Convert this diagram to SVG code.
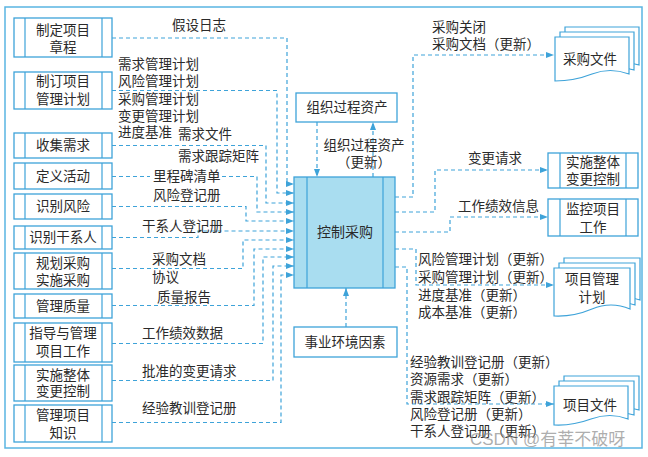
<svg xmlns="http://www.w3.org/2000/svg" width="648" height="457" viewBox="0 0 648 457">
<defs>
<style>
text{font-family:"Liberation Sans","Noto Sans CJK SC",sans-serif;font-size:13.5px;fill:#2a2a2a;dominant-baseline:central}
.c{text-anchor:middle}
.box{fill:#fff;stroke:#3ea3d9;stroke-width:1.3}
.bar{stroke:#3ea3d9;stroke-width:1.2;fill:none}
.ctr{fill:#a9ddf0;stroke:#3ea3d9;stroke-width:1.3}
.doc{fill:#fff;stroke:#3ea3d9;stroke-width:1.2}
.dl{fill:none;stroke:#3ea3d9;stroke-width:1.2;stroke-dasharray:4 3}
.ar{marker-end:url(#ah)}
.wm{font-size:17px;fill:#8a8a8a;fill-opacity:0.7}
</style>
<marker id="ah" viewBox="0 0 8 6" refX="8" refY="3" markerWidth="8" markerHeight="6" markerUnits="userSpaceOnUse" orient="auto">
<path d="M0,0 L8,3 L0,6 Z" fill="#3ea3d9"/>
</marker>
</defs>
<rect x="0" y="0" width="648" height="457" fill="#fff"/>
<rect x="5" y="7" width="637" height="441" fill="none" stroke="#5ab5e2" stroke-width="1.5"/>

<!-- left nodes -->
<g id="n1"><rect class="box" x="14" y="18" width="98" height="39"/><path class="bar" d="M25 18V57M102 18V57"/><text class="c" x="63" y="30">制定项目</text><text class="c" x="63" y="47">章程</text></g>
<g id="n2"><rect class="box" x="14" y="72" width="98" height="37"/><path class="bar" d="M25 72V109M102 72V109"/><text class="c" x="63" y="81">制订项目</text><text class="c" x="63" y="99">管理计划</text></g>
<g id="n3"><rect class="box" x="14" y="133" width="98" height="25"/><path class="bar" d="M25 133V158M102 133V158"/><text class="c" x="63" y="145.5">收集需求</text></g>
<g id="n4"><rect class="box" x="14" y="163" width="98" height="26"/><path class="bar" d="M25 163V189M102 163V189"/><text class="c" x="63" y="176">定义活动</text></g>
<g id="n5"><rect class="box" x="14" y="194" width="98" height="25"/><path class="bar" d="M25 194V219M102 194V219"/><text class="c" x="63" y="206.5">识别风险</text></g>
<g id="n6"><rect class="box" x="14" y="226" width="98" height="23"/><path class="bar" d="M25 226V249M102 226V249"/><text class="c" x="63" y="237.5">识别干系人</text></g>
<g id="n7"><rect class="box" x="14" y="253" width="98" height="36"/><path class="bar" d="M25 253V289M102 253V289"/><text class="c" x="63" y="263">规划采购</text><text class="c" x="63" y="280">实施采购</text></g>
<g id="n8"><rect class="box" x="14" y="294" width="98" height="24"/><path class="bar" d="M25 294V318M102 294V318"/><text class="c" x="63" y="306">管理质量</text></g>
<g id="n9"><rect class="box" x="14" y="323" width="98" height="39"/><path class="bar" d="M25 323V362M102 323V362"/><text class="c" x="63" y="333">指导与管理</text><text class="c" x="63" y="351">项目工作</text></g>
<g id="n10"><rect class="box" x="14" y="365" width="98" height="36"/><path class="bar" d="M25 365V401M102 365V401"/><text class="c" x="63" y="375">实施整体</text><text class="c" x="63" y="391">变更控制</text></g>
<g id="n11"><rect class="box" x="14" y="405" width="98" height="37"/><path class="bar" d="M25 405V442M102 405V442"/><text class="c" x="63" y="415">管理项目</text><text class="c" x="63" y="433">知识</text></g>

<!-- center -->
<g id="center"><rect class="ctr" x="294" y="177" width="101" height="111"/><path class="bar" d="M307 177V288M383 177V288"/><text class="c" x="345" y="232" style="font-size:14px">控制采购</text></g>
<g id="opa"><rect class="box" x="296" y="93" width="101" height="29"/><text class="c" x="347" y="107">组织过程资产</text></g>
<g id="eef"><rect class="box" x="294" y="327" width="103" height="30"/><text class="c" x="345" y="342">事业环境因素</text></g>

<!-- right nodes -->
<g id="r1"><path class="doc" d="M565 27H639V65Q620 59 602 65T565 69Z"/><path class="doc" d="M560 32H634V70Q615 64 597 70T560 74Z"/><path class="doc" d="M555 37H629V74Q610 67 592 74T555 81Z"/><text class="c" x="590" y="59">采购文件</text></g>
<g id="r2"><rect class="box" x="548" y="153" width="90" height="35"/><path class="bar" d="M560 153V188M626 153V188"/><text class="c" x="593" y="162">实施整体</text><text class="c" x="593" y="179">变更控制</text></g>
<g id="r3"><rect class="box" x="548" y="199" width="90" height="37"/><path class="bar" d="M560 199V236M626 199V236"/><text class="c" x="593" y="209">监控项目</text><text class="c" x="593" y="227">工作</text></g>
<g id="r4"><path class="doc" d="M564 258H640V300Q621 293 602 300T564 304Z"/><path class="doc" d="M559 263H635V305Q616 298 597 305T559 309Z"/><path class="doc" d="M554 268H630V309Q611 301 592 309T554 316Z"/><text class="c" x="592" y="279">项目管理</text><text class="c" x="592" y="297">计划</text></g>
<g id="r5"><path class="doc" d="M564 376H639V410Q620 404 601 410T564 414Z"/><path class="doc" d="M559 381H634V415Q615 409 596 415T559 419Z"/><path class="doc" d="M554 386H628V419Q610 412 591 419T554 425Z"/><text class="c" x="590" y="405">项目文件</text></g>

<!-- connectors -->
<g id="connectors">
<path class="dl ar" d="M112 38H287V184H294"/>
<path class="dl ar" d="M112 90.5H277V193H294"/>
<path class="dl ar" d="M112 145.5H266V203H294"/>
<path class="dl" d="M112 176.5H150"/>
<path class="dl ar" d="M222 176.5H257V212H294"/>
<path class="dl ar" d="M112 206.5H246V221H294"/>
<path class="dl ar" d="M112 237.5H198V231H294"/>
<path class="dl ar" d="M112 268.5H243V240H294"/>
<path class="dl ar" d="M112 305.5H254V249H294"/>
<path class="dl ar" d="M112 343.5H263V257H294"/>
<path class="dl ar" d="M112 380.5H273V266H294"/>
<path class="dl ar" d="M112 422.5H281V275H294"/>
<path class="dl ar" d="M317 122V177"/>
<path class="dl ar" d="M373 177V122"/>
<path class="dl ar" d="M346 327V288"/>
<path class="dl ar" d="M395 197H413V55H554"/>
<path class="dl ar" d="M395 212H435V170H548"/>
<path class="dl ar" d="M395 232H450V217H548"/>
<path class="dl ar" d="M395 249H416V285H554"/>
<path class="dl ar" d="M395 267H407V404H554"/>
</g>

<!-- labels -->
<g id="labels">
<text x="172" y="25">假设日志</text>
<text x="118" y="64">需求管理计划</text>
<text x="118" y="81">风险管理计划</text>
<text x="118" y="99">采购管理计划</text>
<text x="118" y="116">变更管理计划</text>
<text x="118" y="132">进度基准</text>
<text x="178" y="134">需求文件</text>
<text x="178" y="156">需求跟踪矩阵</text>
<text x="153" y="176.5">里程碑清单</text>
<text x="153" y="195">风险登记册</text>
<text x="142" y="226">干系人登记册</text>
<text x="152" y="259">采购文档</text>
<text x="152" y="277">协议</text>
<text x="157" y="297">质量报告</text>
<text x="142" y="333">工作绩效数据</text>
<text x="142" y="371">批准的变更请求</text>
<text x="142" y="408">经验教训登记册</text>
<text class="c" x="364" y="145">组织过程资产</text>
<text class="c" x="364" y="162">（更新）</text>
<text x="432" y="27">采购关闭</text>
<text x="432" y="44">采购文档（更新）</text>
<text x="468" y="158">变更请求</text>
<text x="458" y="206">工作绩效信息</text>
<text x="418" y="259">风险管理计划（更新）</text>
<text x="418" y="277">采购管理计划（更新）</text>
<text x="418" y="295">进度基准（更新）</text>
<text x="418" y="312">成本基准（更新）</text>
<text x="410" y="362">经验教训登记册（更新）</text>
<text x="410" y="379">资源需求（更新）</text>
<text x="410" y="397">需求跟踪矩阵（更新）</text>
<text x="410" y="414">风险登记册（更新）</text>
<text x="410" y="431">干系人登记册（更新）</text>
</g>
<text class="wm" x="470" y="439">CSDN @有莘不破呀</text>
</svg>
